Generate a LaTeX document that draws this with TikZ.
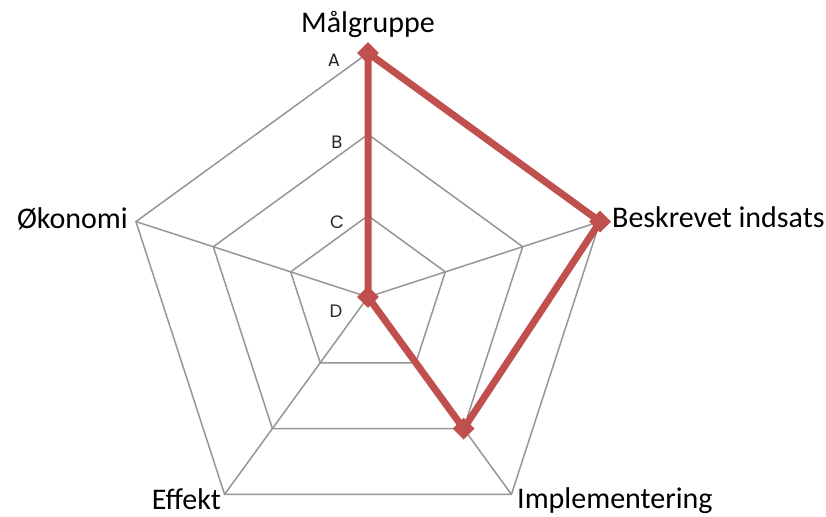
\documentclass[tikz,border=0pt]{standalone}
\usepackage{fontspec}
\setmainfont{Carlito}
\newfontfamily\tickfont{Poppins}
\usetikzlibrary{shapes.geometric,calc}
\definecolor{gridgray}{HTML}{969696}
\definecolor{seriesred}{HTML}{C0504D}
\begin{document}
\begin{tikzpicture}[x=1pt,y=1pt,
  gridline/.style={draw=gridgray,line width=1.5pt},
  series/.style={draw=seriesred,line width=7pt,line join=round},
  marker/.style={fill=seriesred,draw=none,minimum size=22pt,inner sep=0pt,shape=diamond},
  axislabel/.style={font=\fontsize{30}{35}\selectfont,inner sep=0pt,text=black},
  ticklabel/.style={font=\tickfont\fontsize{18}{20}\selectfont,inner sep=0pt,text=black!85}]
\useasboundingbox (0,0) rectangle (826,516);
\coordinate (O) at (368,219);
% rings
\foreach \r in {244,162.67,81.33}{
  \draw[gridline] ($(O)+(90:\r)$) -- ($(O)+(18:\r)$) -- ($(O)+(-54:\r)$) -- ($(O)+(-126:\r)$) -- ($(O)+(162:\r)$) -- cycle;
}
\coordinate (vM) at ($(O)+(90:244)$);
\coordinate (vB) at ($(O)+(18:244)$);
\coordinate (vI) at ($(O)+(-54:244)$);
\coordinate (vE) at ($(O)+(-126:244)$);
\coordinate (vO) at ($(O)+(162:244)$);
\foreach \v in {vM,vB,vI,vE,vO}{ \draw[gridline] (O) -- (\v); }
% series
\coordinate (dI) at ($(O)+(-54:162.67)$);
\draw[series] (O) -- (vM) -- (vB) -- (dI) -- cycle;
\node[marker] (mM) at (vM) {};
\node[marker] (mB) at (vB) {};
\node[marker] (mI) at (dI) {};
\node[marker] (mO) at (O) {};
% axis labels
\node[axislabel,anchor=base] (lM) at (368,483) {Målgruppe};
\node[axislabel,anchor=base west] (lB) at (612,288) {Beskrevet indsats};
\node[axislabel,anchor=base east] (lO) at (128,287) {Økonomi};
\node[axislabel,anchor=base east] (lE) at (221,7) {Effekt};
\node[axislabel,anchor=base west] (lI) at (517,7.5) {Implementering};
% tick labels
\node[ticklabel] (tA) at (334,456) {A};
\node[ticklabel] (tB) at (337,374) {B};
\node[ticklabel] (tC) at (337,294) {C};
\node[ticklabel] (tD) at (336,205) {D};
\end{tikzpicture}
\end{document}
